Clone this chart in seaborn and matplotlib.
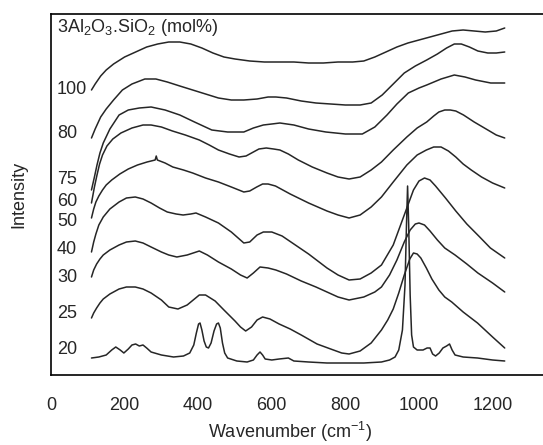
import matplotlib
matplotlib.use("Agg")
import matplotlib.pyplot as plt
import seaborn as sns
import pandas as pd

# ---- data (wavenumber cm-1, stacked intensity a.u.) ----
wn_100 = [110, 120, 135, 150, 170, 200, 230, 260, 290, 320, 350, 380, 410, 440, 470, 500, 540, 580, 620, 660, 700, 740, 780, 820, 850, 880, 910, 940, 970, 1000, 1030, 1060, 1090, 1120, 1150, 1180, 1210, 1233]
in_100 = [285, 291, 299, 305, 311, 318, 323, 328, 331, 333, 333, 331, 327, 322, 318, 316, 314, 313, 313, 313, 312, 312, 313, 313, 314, 318, 323, 328, 332, 335, 338, 341, 344, 345, 344, 343, 344, 347]

wn_80 = [110, 120, 135, 150, 170, 194, 220, 255, 285, 316, 350, 385, 420, 455, 490, 524, 560, 590, 611, 640, 680, 720, 760, 800, 840, 870, 900, 930, 960, 990, 1021, 1050, 1075, 1096, 1115, 1137, 1160, 1187, 1210, 1233]
in_80 = [237, 246, 258, 266, 275, 285, 291, 296, 296, 293, 289, 285, 281, 277, 275, 275, 276, 278, 278, 277, 274, 272, 271, 270, 270, 272, 280, 291, 302, 309, 315, 321, 327, 331, 331, 328, 324, 322, 322, 323]

wn_75 = [110, 118, 125, 133, 142, 160, 185, 210, 240, 272, 310, 350, 390, 437, 480, 524, 550, 577, 600, 622, 660, 700, 747, 800, 846, 880, 913, 940, 971, 1000, 1021, 1060, 1096, 1125, 1154, 1195, 1233]
in_75 = [185, 198, 210, 222, 232, 246, 260, 265, 267, 268, 265, 260, 253, 245, 243, 243, 247, 250, 251, 252, 250, 246, 243, 241, 241, 248, 260, 271, 282, 287, 290, 296, 300, 298, 295, 292, 292]

wn_60 = [110, 118, 125, 132, 140, 152, 168, 190, 220, 250, 272, 300, 330, 365, 403, 430, 455, 485, 511, 530, 545, 565, 585, 605, 622, 645, 672, 710, 750, 780, 810, 840, 870, 898, 930, 967, 995, 1021, 1040, 1054, 1070, 1085, 1100, 1121, 1150, 1187, 1210, 1233]
in_60 = [172, 188, 200, 211, 220, 229, 236, 242, 247, 250, 250, 248, 244, 240, 235, 230, 225, 221, 218, 219, 222, 226, 227, 226, 225, 221, 215, 208, 202, 198, 196, 198, 205, 213, 225, 238, 247, 253, 259, 263, 265, 265, 264, 260, 253, 245, 240, 237]

wn_50 = [110, 116, 122, 130, 140, 150, 165, 187, 210, 235, 261, 283, 286, 289, 310, 331, 360, 385, 420, 455, 490, 524, 540, 559, 575, 590, 610, 650, 700, 750, 780, 810, 840, 870, 898, 930, 967, 995, 1020, 1040, 1060, 1080, 1100, 1120, 1142, 1170, 1200, 1233]
in_50 = [157, 166, 173, 179, 185, 190, 195, 201, 206, 210, 213, 215, 219, 215, 212, 208, 205, 202, 197, 193, 188, 183, 184, 188, 191, 191, 189, 181, 172, 164, 160, 157, 160, 168, 178, 193, 210, 220, 225, 228, 228, 224, 218, 211, 205, 198, 192, 187]

wn_40 = [110, 116, 122, 130, 142, 160, 185, 205, 229, 250, 272, 295, 316, 340, 359, 380, 394, 420, 455, 490, 524, 540, 560, 577, 600, 628, 660, 700, 750, 780, 810, 840, 870, 898, 930, 960, 985, 1000, 1015, 1030, 1045, 1072, 1100, 1130, 1165, 1194, 1233]
in_40 = [123, 133, 141, 150, 158, 166, 173, 177, 178, 176, 172, 167, 163, 161, 160, 161, 162, 158, 152, 143, 132, 133, 140, 143, 143, 139, 131, 121, 107, 100, 95, 96, 102, 110, 130, 160, 185, 194, 197, 195, 189, 177, 164, 151, 138, 127, 117]

wn_30 = [110, 116, 124, 133, 142, 160, 185, 205, 229, 250, 272, 300, 320, 342, 370, 403, 425, 455, 490, 515, 533, 550, 568, 590, 611, 640, 680, 720, 750, 780, 810, 850, 880, 898, 920, 940, 960, 976, 990, 1000, 1015, 1030, 1050, 1070, 1098, 1130, 1160, 1200, 1233]
in_30 = [98, 105, 111, 116, 120, 125, 130, 133, 134, 132, 128, 123, 120, 118, 120, 124, 120, 113, 106, 100, 97, 102, 108, 107, 105, 101, 94, 88, 83, 78, 75, 78, 83, 88, 100, 115, 133, 145, 151, 152, 150, 144, 135, 127, 120, 111, 102, 92, 83]

wn_25 = [110, 116, 124, 133, 142, 160, 185, 205, 229, 250, 272, 300, 320, 345, 370, 403, 420, 446, 470, 500, 515, 529, 545, 560, 575, 595, 620, 650, 680, 723, 760, 790, 810, 840, 870, 898, 915, 930, 945, 960, 975, 985, 995, 1005, 1020, 1035, 1054, 1070, 1089, 1120, 1159, 1200, 1233]
in_25 = [57, 62, 67, 72, 76, 81, 86, 88, 88, 86, 82, 75, 68, 66, 70, 80, 80, 74, 65, 54, 48, 44, 48, 55, 58, 56, 51, 46, 40, 31, 26, 22, 21, 24, 32, 45, 55, 66, 82, 100, 116, 122, 121, 117, 107, 96, 85, 78, 73, 63, 52, 38, 27]

wn_20 = [110, 130, 150, 165, 176, 188, 198, 210, 220, 230, 240, 250, 260, 272, 300, 333, 360, 377, 388, 395, 401, 405, 410, 416, 422, 428, 435, 443, 450, 455, 460, 466, 472, 480, 505, 533, 550, 560, 568, 575, 582, 600, 620, 645, 660, 700, 750, 800, 850, 898, 920, 935, 945, 955, 962, 966, 969, 972, 976, 980, 985, 995, 1011, 1022, 1030, 1037, 1045, 1055, 1065, 1075, 1083, 1090, 1098, 1120, 1159, 1200, 1233]
in_20 = [17, 18, 20, 25, 28, 25, 22, 26, 30, 31, 29, 30, 27, 23, 20, 18, 19, 22, 30, 42, 51, 52, 45, 34, 28, 27, 32, 44, 51, 52, 47, 32, 22, 17, 14, 13, 15, 20, 23, 20, 16, 15, 16, 17, 14, 13, 12, 12, 12, 13, 15, 18, 25, 45, 90, 150, 189, 150, 80, 40, 28, 25, 25, 27, 27, 21, 19, 22, 27, 29, 31, 25, 20, 18, 17, 15, 14]

series_names = ["100", "80", "75", "60", "50", "40", "30", "25", "20"]
series_wn = [wn_100, wn_80, wn_75, wn_60, wn_50, wn_40, wn_30, wn_25, wn_20]
series_in = [in_100, in_80, in_75, in_60, in_50, in_40, in_30, in_25, in_20]
label_y = [285, 242, 195, 173, 153, 125, 98, 62, 25]

xtick_values = list(range(0, 1201, 100))
xtick_labels = [str(v) if v % 200 == 0 else "" for v in xtick_values]

rows = []
for name, w, i in zip(series_names, series_wn, series_in):
    for a, b in zip(w, i):
        rows.append({"series": name, "wn": a, "I": b})
df = pd.DataFrame(rows)

sns.set_style("white")
plt.rcParams["font.family"] = ["Liberation Sans", "DejaVu Sans"]
plt.rcParams["mathtext.fontset"] = "custom"
plt.rcParams["mathtext.rm"] = "Liberation Sans"
plt.rcParams["mathtext.it"] = "Liberation Sans:italic"

fig = plt.figure(figsize=(5.43, 4.45), dpi=100)
ax = fig.add_axes([51 / 543, 70 / 445, 492 / 543, 361 / 445])

sns.lineplot(data=df, x="wn", y="I", hue="series", units="series", estimator=None,
             sort=False, palette=["#262626"] * len(series_names), legend=False,
             linewidth=1.1, ax=ax)

ax.set_xlim(0, 1337)
ax.set_ylim(0, 361)
ax.set_yticks([])
ax.set_xticks(xtick_values)
ax.set_xticklabels(xtick_labels)
ax.tick_params(axis="x", direction="in", length=5, width=1, pad=16, labelsize=13, color="black")
for s in ["left", "bottom", "top"]:
    ax.spines[s].set_color("black")
    ax.spines[s].set_linewidth(1.2)
ax.spines["right"].set_visible(False)

ax.set_xlabel("Wavenumber (cm$^{-1}$)", fontsize=13)
ax.xaxis.set_label_coords((290 - 51) / 492, -0.124)
ax.set_ylabel("Intensity", fontsize=13, labelpad=17)

for name, yy in zip(series_names, label_y):
    ax.text(16, yy, name, fontsize=13, va="center", ha="left")
ax.text(16, 347, "3Al$_2$O$_3$.SiO$_2$ (mol%)", fontsize=13, va="center", ha="left")

fig.savefig("out.png", dpi=100)
